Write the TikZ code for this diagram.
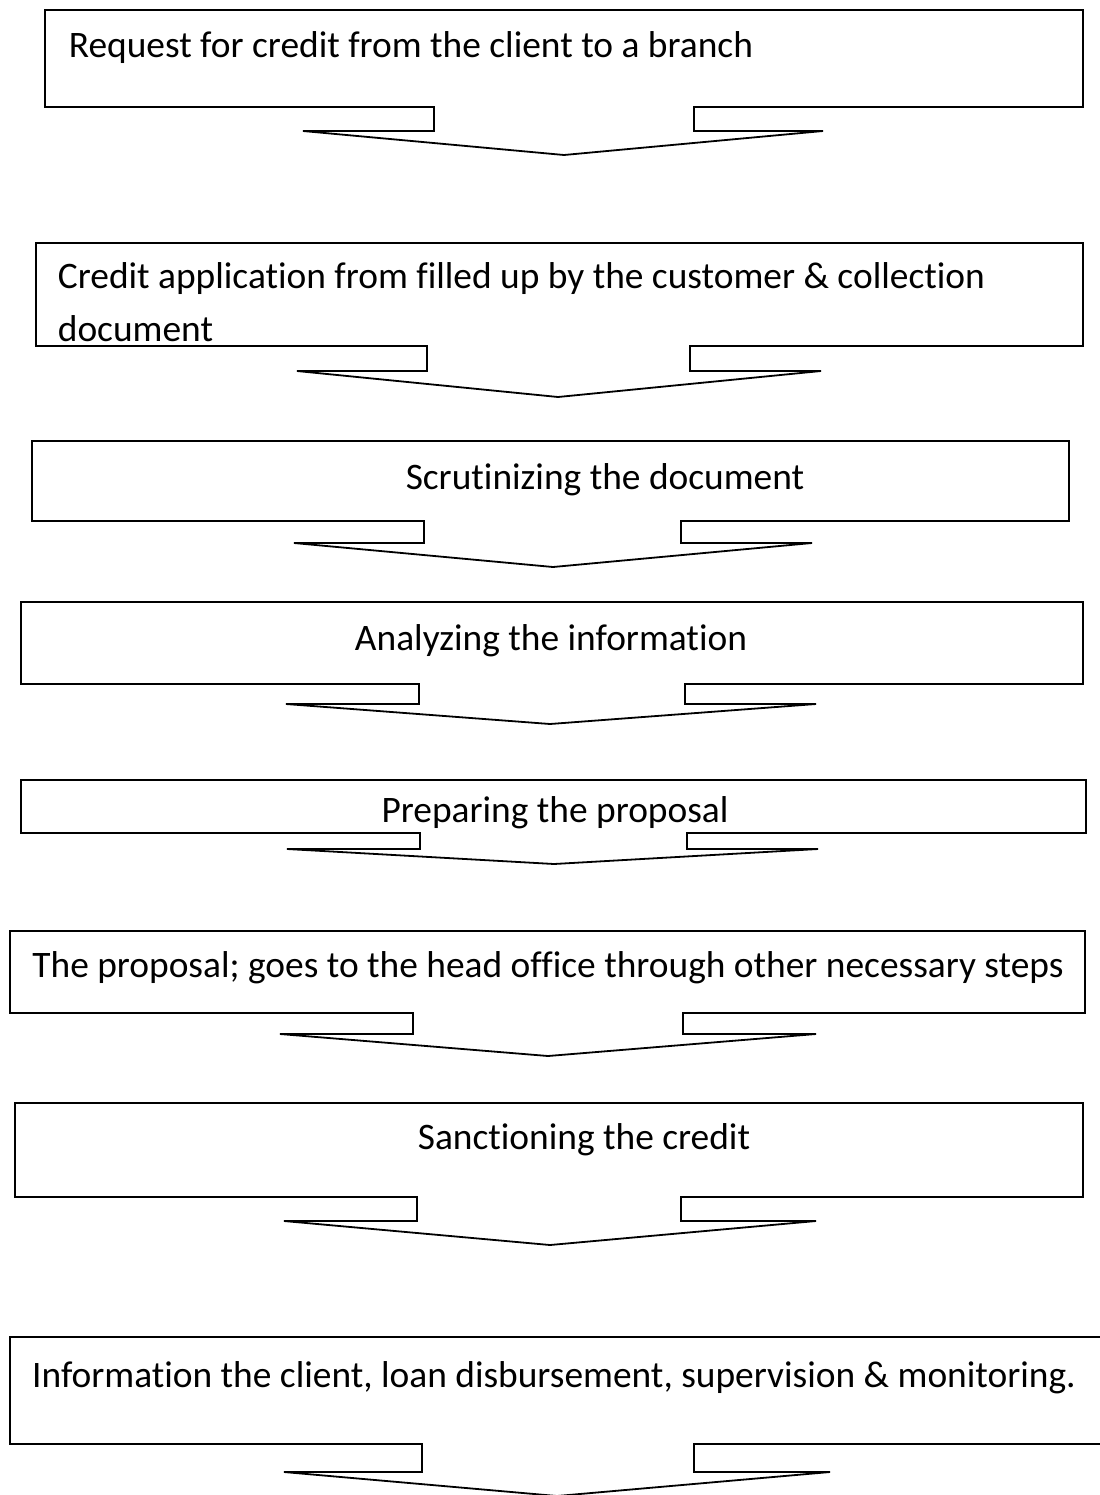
\documentclass[tikz,border=0pt]{standalone}
\usepackage{fontspec}
\setmainfont{Carlito}[Ligatures=CommonOff]

\begin{document}
\begin{tikzpicture}[x=0.5pt,y=-0.5pt,line width=0.9pt,
  steptext/.style={inner sep=0pt,font=\fontsize{18.7}{26.5}\selectfont}]
% Page frame, measured in pixels from the top left
\useasboundingbox (0,0) rectangle (1099,1495);
% Step 1: box with its arrow below
\draw (45,10) -- (1083,10) -- (1083,107) -- (694,107) -- (694,131) -- (823,131)
  -- (564,155) -- (303,131) -- (434,131) -- (434,107) -- (45,107) -- cycle;
\node[steptext,anchor=base west] (request) at (68,57)
  {Request for credit from the client to a branch};
% Step 2: two lines of text, left aligned (base = last line)
\draw (36,243) -- (1083,243) -- (1083,346) -- (690,346) -- (690,371) -- (821,371)
  -- (558,397) -- (297,371) -- (427,371) -- (427,346) -- (36,346) -- cycle;
\node[steptext,anchor=base west,align=left] (application) at (57,341)
  {Credit application from filled up by the customer \& collection\\document};
% Step 3
\draw (32,441) -- (1069,441) -- (1069,521) -- (681,521) -- (681,543) -- (812,543)
  -- (553,567) -- (294,543) -- (424,543) -- (424,521) -- (32,521) -- cycle;
\node[steptext,anchor=base] (scrutiny) at (605,489) {Scrutinizing the document};
% Step 4
\draw (21,602) -- (1083,602) -- (1083,684) -- (685,684) -- (685,704) -- (816,704)
  -- (550,724) -- (286,704) -- (419,704) -- (419,684) -- (21,684) -- cycle;
\node[steptext,anchor=base] (analysis) at (551,650) {Analyzing the information};
% Step 5: flat box, text sits low
\draw (21,780) -- (1086,780) -- (1086,833) -- (687,833) -- (687,849) -- (818,849)
  -- (554,864) -- (287,849) -- (420,849) -- (420,833) -- (21,833) -- cycle;
\node[steptext,anchor=base] (proposal) at (555,822) {Preparing the proposal};
% Step 6
\draw (10,931) -- (1085,931) -- (1085,1013) -- (683,1013) -- (683,1034) -- (816,1034)
  -- (548,1056) -- (280,1034) -- (413,1034) -- (413,1013) -- (10,1013) -- cycle;
\node[steptext,anchor=base] (headoffice) at (548,977)
  {The proposal; goes to the head office through other necessary steps};
% Step 7
\draw (15,1103) -- (1083,1103) -- (1083,1197) -- (681,1197) -- (681,1221) -- (816,1221)
  -- (550,1245) -- (284,1221) -- (417,1221) -- (417,1197) -- (15,1197) -- cycle;
\node[steptext,anchor=base] (sanction) at (584,1149) {Sanctioning the credit};
% Step 8: box runs past the right edge
\draw (10,1337) -- (1110,1337) -- (1110,1444) -- (694,1444) -- (694,1472) -- (830,1472)
  -- (557,1496) -- (284,1472) -- (422,1472) -- (422,1444) -- (10,1444) -- cycle;
\node[steptext,anchor=base] (disbursement) at (554,1387)
  {Information the client, loan disbursement, supervision \& monitoring.};
\end{tikzpicture}
\end{document}
